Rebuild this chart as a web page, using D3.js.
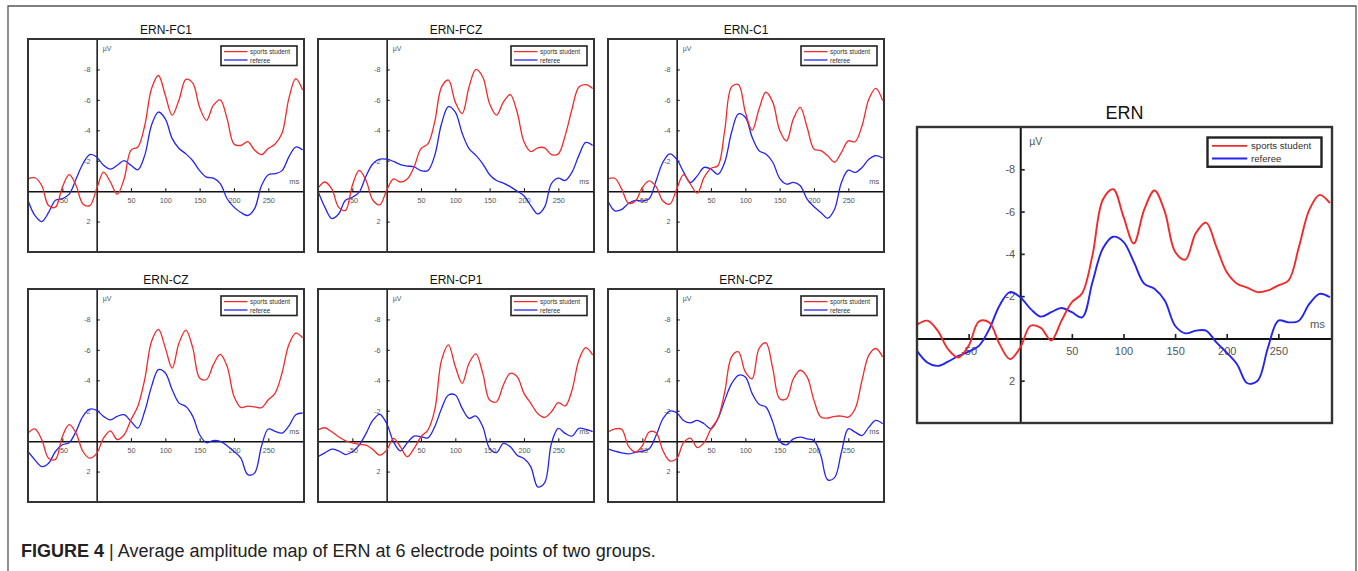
<!DOCTYPE html>
<html>
<head>
<meta charset="utf-8">
<script src="https://cdn.jsdelivr.net/npm/d3@7"></script>
<style>
  body { margin: 0; background: #fff; }
  svg { display: block; font-family: "Liberation Sans", Arial, sans-serif; }
</style>
</head>
<body>
<svg id="chart" width="1358" height="571"></svg>
<script>
// time points (ms) the curves were read at
var times = [-100,-90,-80,-70,-60,-50,-40,-30,-20,-10,0,10,20,30,40,50,60,70,80,90,100,
             110,120,130,140,150,160,170,180,190,200,210,220,230,240,250,260,270,280,290,300];

// amplitudes (µV)
var fc1Sports  = [-0.81,-0.88,-0.37,0.95,1.05,-0.26,-1.08,-0.37,0.84,0.95,-0.15,-1.25,-0.6,0.2,-0.8,-2.7,-2.9,-4.3,-6.75,-7.6,-6.3,-5.0,-6.0,-7.35,-7.1,-5.5,-4.65,-5.65,-6.0,-4.75,-3.1,-3.0,-3.25,-2.7,-2.4,-2.8,-3.1,-3.8,-6.1,-7.4,-6.65];
var fc1Referee = [0.6,1.6,2.0,1.4,0.6,0.5,0.2,-0.8,-1.8,-2.4,-2.25,-1.7,-1.45,-1.7,-2.0,-1.7,-1.4,-2.35,-4.35,-5.2,-4.75,-3.45,-2.8,-2.45,-2.0,-1.35,-0.92,-0.85,-0.5,0.5,1.05,1.4,1.6,1.15,-0.35,-1.08,-1.15,-1.35,-2.25,-2.9,-2.7];
var fczSports  = [-0.2,-0.6,-0.15,1.05,1.27,-0.37,-1.36,-0.7,0.6,0.9,-0.05,-0.8,-0.6,-0.8,-1.6,-2.8,-3.1,-4.55,-6.85,-7.3,-5.85,-5.1,-6.85,-8.0,-7.5,-5.75,-5.0,-5.85,-6.35,-5.2,-3.25,-2.6,-2.85,-2.85,-2.4,-2.45,-3.65,-5.4,-6.85,-7.0,-6.75];
var fczReferee = [0,1.05,1.8,1.5,0.6,0.4,0.07,-1.0,-1.8,-2.1,-2.1,-1.95,-1.75,-1.65,-1.6,-1.35,-1.35,-2.35,-4.45,-5.55,-5.2,-3.8,-2.8,-2.35,-1.8,-1.08,-0.7,-0.53,-0.3,0,0.3,0.95,1.5,1.05,-0.5,-0.85,-0.7,-1.25,-2.35,-3.2,-3.0];
var c1Sports   = [-0.8,-0.85,-0.13,0.8,0.65,-0.24,-0.68,-0.3,0.65,0.86,-0.13,-1.08,-0.46,0.13,-0.9,-1.5,-1.67,-4.0,-6.85,-7.0,-5.2,-4.0,-5.4,-6.5,-5.85,-4.0,-3.3,-4.75,-5.5,-4.2,-2.77,-2.66,-2.33,-1.9,-2.55,-3.3,-3.25,-4.3,-6.05,-6.75,-5.95];
var c1Referee  = [0.65,1.3,1.2,0.8,0.6,0.65,0.5,-0.68,-1.9,-2.45,-2.1,-1.27,-0.57,-1.0,-1.56,-1.45,-1.1,-1.9,-3.87,-5.08,-4.86,-3.54,-2.66,-2.44,-1.9,-0.84,-0.46,-0.57,-0.35,0.53,1.03,1.4,1.78,1.19,-0.57,-1.38,-1.23,-1.56,-2.1,-2.33,-2.18];
var czSports   = [-0.53,-0.8,-0.1,1.12,1.2,-0.3,-1.08,-0.53,0.68,1.12,0.8,-0.2,-0.68,-0.1,-0.42,-1.4,-2.3,-4.05,-6.57,-7.35,-6.13,-4.8,-6.46,-7.3,-6.13,-4.15,-4.05,-5.03,-5.7,-4.92,-2.95,-2.22,-2.3,-2.25,-2.2,-2.72,-3.16,-4.48,-6.35,-7.1,-6.8];
var czReferee  = [0.68,1.23,1.67,1.45,0.68,0.24,0.1,-0.64,-1.63,-2.1,-2.02,-1.63,-1.4,-1.63,-1.74,-1.3,-0.86,-1.96,-3.6,-4.7,-4.48,-3.38,-2.5,-2.28,-1.63,-0.42,0.1,-0.04,0.02,0.3,0.68,1.12,2.2,2.1,0.35,-0.8,-0.64,-0.53,-1.0,-1.74,-1.85];
var cp1Sports  = [-0.73,-0.88,-0.62,-0.29,-0.02,0.11,0.22,0.26,0.55,0.92,0.59,-0.18,0.37,1.03,0.48,-0.29,-0.73,-2.04,-5.34,-6.33,-4.9,-3.8,-5.12,-5.73,-4.46,-2.7,-2.59,-3.69,-4.46,-4.24,-3.14,-2.48,-1.82,-1.56,-1.93,-2.53,-2.31,-3.36,-5.34,-6.15,-5.67];
var cp1Referee = [1.03,0.77,0.53,0.64,0.88,0.7,0.26,-0.51,-1.38,-1.76,-1.16,0.04,0.64,0.11,-0.33,-0.29,-0.22,-0.95,-2.15,-3.03,-3.03,-2.15,-1.5,-1.65,-0.95,0.48,0.75,0.15,0.37,0.92,1.14,1.69,3.0,2.75,0.15,-0.84,-0.51,-0.33,-0.84,-0.77,-0.62];
var cpzSports  = [-0.6,-0.8,-0.78,0.35,0.72,0.3,-0.6,-0.55,0.62,1.3,1.15,0.1,-0.2,0.42,0.1,-0.81,-1.47,-3.23,-5.54,-5.87,-4.55,-4.1,-6.09,-6.46,-4.77,-2.79,-2.79,-4.1,-4.66,-4.22,-2.68,-1.58,-1.52,-1.63,-1.65,-1.58,-2.13,-4.0,-5.65,-6.09,-5.54];
var cpzReferee = [0.5,0.66,0.77,0.84,0.73,0.66,0.5,-0.37,-1.47,-1.98,-1.87,-1.36,-1.2,-1.36,-1.14,-0.81,-1.47,-2.68,-3.78,-4.33,-4.22,-3.12,-2.42,-2.24,-1.25,0.02,0.24,-0.15,-0.26,-0.15,-0.04,0.95,2.55,2.4,0.73,-0.81,-0.59,-0.37,-0.92,-1.36,-1.14];
var ernSports  = [-0.65,-0.84,-0.37,0.5,0.9,0.35,-0.8,-0.75,0.27,0.98,0.43,-0.6,-0.5,0.1,-0.84,-1.71,-2.14,-3.94,-6.56,-7.06,-5.76,-4.49,-6.08,-7.0,-6.0,-4.1,-3.73,-4.97,-5.48,-4.33,-3.14,-2.59,-2.4,-2.19,-2.27,-2.51,-2.75,-4.33,-6.08,-6.79,-6.4];
var ernReferee = [0.59,1.14,1.3,1.1,0.83,0.62,0.35,-0.44,-1.56,-2.19,-1.95,-1.4,-1.03,-1.24,-1.44,-1.24,-1.0,-2.67,-4.25,-4.81,-4.57,-3.62,-2.59,-2.35,-1.79,-0.6,-0.24,-0.37,-0.37,0.19,0.67,1.22,2.12,2.0,0.43,-0.84,-0.76,-0.84,-1.63,-2.11,-1.95];

var seriesNames = ["sports student", "referee"];
var seriesColors = ["#f22a2a", "#2424f0"];
var xTicks = [-50, 50, 100, 150, 200, 250];
var yTicks = [-8, -6, -4, -2, 2];
var xDomain = [-100, 302];
var yDomain = [-10, 4];   // negative up, as in ERP plots

var small = { w: 276, h: 213, k: 1,   tick: 7.3,  tickPadX: 6.6, tickPadY: 6,   title: 12, titleDy: -9,  stroke: 1.3, axis: 1.5, frame: 2 };
var big   = { w: 415, h: 296, k: 1.5, tick: 11,   tickPadX: 8.8, tickPadY: 5,   title: 18, titleDy: -14, stroke: 1.9, axis: 2,   frame: 2.4 };

var panels = [
  { title: "ERN-FC1", s: fc1Sports, r: fc1Referee, x: 28,  y: 39,  lay: small },
  { title: "ERN-FCZ", s: fczSports, r: fczReferee, x: 318, y: 39,  lay: small },
  { title: "ERN-C1",  s: c1Sports,  r: c1Referee,  x: 608, y: 39,  lay: small },
  { title: "ERN-CZ",  s: czSports,  r: czReferee,  x: 28,  y: 289, lay: small },
  { title: "ERN-CP1", s: cp1Sports, r: cp1Referee, x: 318, y: 289, lay: small },
  { title: "ERN-CPZ", s: cpzSports, r: cpzReferee, x: 608, y: 289, lay: small },
  { title: "ERN",     s: ernSports, r: ernReferee, x: 917, y: 127, lay: big }
];

var svg = d3.select("#chart");

// outer figure border
svg.append("path")
    .attr("d", "M8,571V6H1356V571")
    .attr("fill", "none")
    .attr("stroke", "#555")
    .attr("stroke-width", 1.3);

var drawPanel = function (p, idx) {
  var L = p.lay, k = L.k;
  var g = svg.append("g").attr("transform", "translate(" + p.x + "," + p.y + ")");
  var x = d3.scaleLinear().domain(xDomain).range([0, L.w]);
  var y = d3.scaleLinear().domain(yDomain).range([0, L.h]);

  g.append("text")
      .attr("x", L.w / 2)
      .attr("y", L.titleDy)
      .attr("text-anchor", "middle")
      .attr("dominant-baseline", "central")
      .style("font-size", L.title + "px")
      .attr("fill", "#111")
      .text(p.title);

  // y axis at t = 0, ticks pointing right, labels on the left
  var yAxis = g.append("g")
      .attr("transform", "translate(" + x(0) + ",0)")
      .call(d3.axisLeft(y).tickValues(yTicks).tickSizeInner(-3 * k).tickSizeOuter(0)
            .tickPadding(L.tickPadY).tickFormat(function (d) { return String(d); }));

  // x axis at 0 µV, ticks pointing up, labels below
  var xAxis = g.append("g")
      .attr("transform", "translate(0," + y(0) + ")")
      .call(d3.axisBottom(x).tickValues(xTicks).tickSizeInner(-3 * k).tickSizeOuter(0)
            .tickPadding(L.tickPadX).tickFormat(function (d) { return String(d); }));

  [yAxis, xAxis].forEach(function (a) {
    a.select(".domain").attr("stroke", "#111").attr("stroke-width", L.axis);
    a.selectAll(".tick line").attr("stroke", "#222").attr("stroke-width", 1.1 * k);
    a.selectAll(".tick text")
        .attr("fill", "#555")
        .style("font-size", L.tick + "px")
        .style("font-family", "'Liberation Sans', Arial, sans-serif");
  });

  g.append("text")
      .attr("x", x(0) + 6 * k)
      .attr("y", 9.5 * k)
      .attr("dominant-baseline", "central")
      .attr("fill", "#555")
      .style("font-size", (7 * k) + "px")
      .text("µV");

  g.append("text")
      .attr("x", L.w - 4.7 * k)
      .attr("y", y(0) - 9.7 * k)
      .attr("text-anchor", "end")
      .attr("dominant-baseline", "central")
      .attr("fill", "#555")
      .style("font-size", (7.5 * k) + "px")
      .text("ms");

  // curves
  g.append("clipPath").attr("id", "clip" + idx)
    .append("rect").attr("width", L.w).attr("height", L.h);

  var line = d3.line()
      .x(function (d, i) { return x(times[i]); })
      .y(function (d) { return y(d); })
      .curve(d3.curveCatmullRom.alpha(0.5));

  [p.r, p.s].forEach(function (vals, j) {
    g.append("path")
        .attr("clip-path", "url(#clip" + idx + ")")
        .attr("d", line(vals))
        .attr("fill", "none")
        .attr("stroke", seriesColors[1 - j])
        .attr("stroke-width", L.stroke);
  });

  // frame
  g.append("rect")
      .attr("width", L.w)
      .attr("height", L.h)
      .attr("fill", "none")
      .attr("stroke", "#333")
      .attr("stroke-width", L.frame);

  // legend
  var lw = 76 * k, lh = 19.5 * k;
  var leg = g.append("g").attr("transform", "translate(" + (L.w - 7 * k - lw) + "," + (7 * k) + ")");
  leg.append("rect")
      .attr("width", lw)
      .attr("height", lh)
      .attr("fill", "#fff")
      .attr("stroke", "#222")
      .attr("stroke-width", 1.6 * k);
  seriesNames.forEach(function (name, i) {
    var ly = (5.6 + 8.4 * i) * k;
    leg.append("line")
        .attr("x1", 3 * k).attr("x2", 26.5 * k)
        .attr("y1", ly).attr("y2", ly)
        .attr("stroke", seriesColors[i])
        .attr("stroke-width", L.stroke);
    leg.append("text")
        .attr("x", 29 * k)
        .attr("y", ly)
        .attr("dominant-baseline", "central")
        .attr("fill", "#333")
        .style("font-size", (6.4 * k) + "px")
        .text(name);
  });
};

panels.forEach(drawPanel);

// caption
var cap = svg.append("text")
    .attr("x", 21)
    .attr("y", 551)
    .attr("dominant-baseline", "central")
    .attr("fill", "#222")
    .style("font-size", "18px");
cap.append("tspan").style("font-weight", "bold").text("FIGURE 4");
cap.append("tspan").text(" | Average amplitude map of ERN at 6 electrode points of two groups.");
</script>
</body>
</html>
